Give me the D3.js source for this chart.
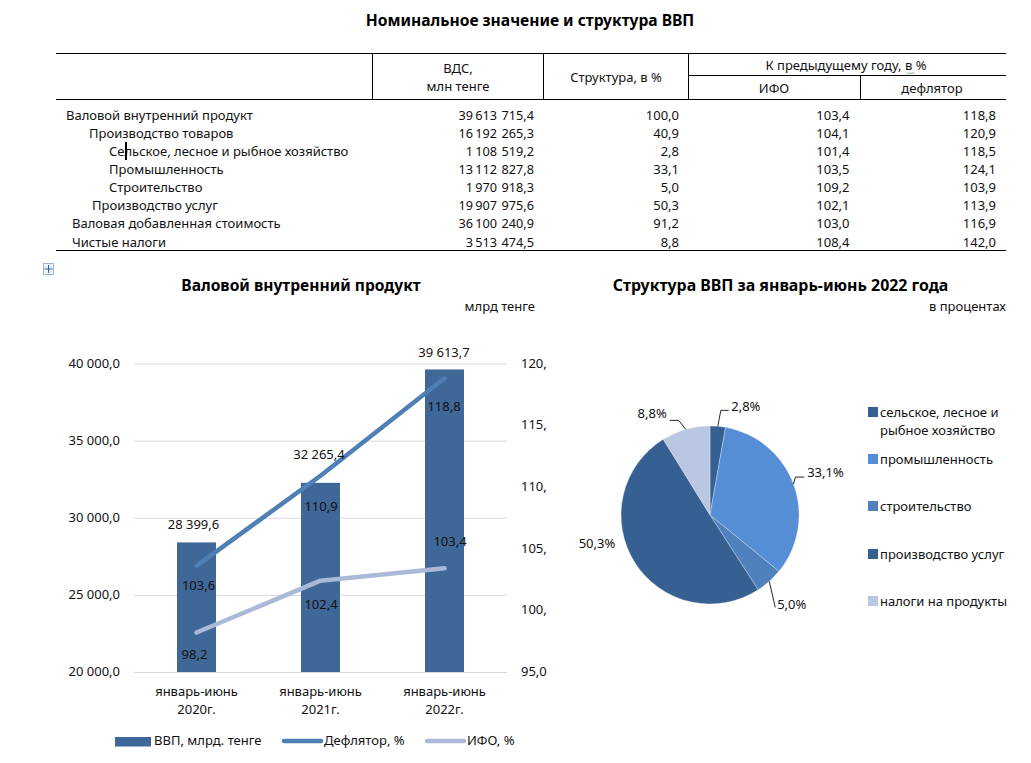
<!DOCTYPE html>
<html><head><meta charset="utf-8">
<script src="https://cdnjs.cloudflare.com/ajax/libs/d3/7.8.5/d3.min.js"></script>
<style>
html,body{margin:0;padding:0;background:#fff}
svg{display:block}
text{font-family:"Noto Sans",sans-serif;font-size:13px;fill:#111}
.b{font-weight:700;font-size:15.6px;fill:#000}
</style></head><body>
<svg id="c" width="1031" height="763"></svg>
<script>
// ---------- table data ----------
const rowNames = ["Валовой внутренний продукт","Производство товаров","Сельское, лесное и рыбное хозяйство","Промышленность","Строительство","Производство услуг","Валовая добавленная стоимость","Чистые налоги"];
const gvaValues = ["39 613  715,4","16 192  265,3","1 108  519,2","13 112  827,8","1 970  918,3","19 907  975,6","36 100  240,9","3 513  474,5"];
const shareValues = ["100,0","40,9","2,8","33,1","5,0","50,3","91,2","8,8"];
const volumeValues = ["103,4","104,1","101,4","103,5","109,2","102,1","103,0","108,4"];
const deflatorValues = ["118,8","120,9","118,5","124,1","103,9","113,9","116,9","142,0"];
// ---------- combo chart data ----------
const periods = ["январь-июнь 2020г.","январь-июнь 2021г.","январь-июнь 2022г."];
const gdp = [28399.6,32265.4,39613.7];
const deflator = [103.6,110.9,118.8];
const ifo = [98.2,102.4,103.4];
const leftTicks = [20000,25000,30000,35000,40000];
const rightTickLabels = ["95,0","100,","105,","110,","115,","120,"];
const rightTicks = [95,100,105,110,115,120];
// ---------- pie data ----------
const pieNames = ["сельское, лесное и|рыбное хозяйство","промышленность","строительство","производство услуг","налоги на продукты"];
const pieValues = [2.8,33.1,5.0,50.3,8.8];
const pieColors = ["#376092","#558ED5","#4F81BD","#376092","#B9C7E2"];

const svg = d3.select("#c");
const fmt = v => d3.format(",.1f")(v).replace(/,/g," ").replace(".",",");
const T = (x,y,s,a="start",cls=null,par=svg) => par.append("text").attr("x",x).attr("y",y).attr("text-anchor",a).attr("class",cls).text(s);
const L = (x1,y1,x2,y2,c="#000",w=1) => svg.append("line").attr("x1",x1).attr("y1",y1).attr("x2",x2).attr("y2",y2).attr("stroke",c).attr("stroke-width",w);

// titles
T(530,25.5,"Номинальное значение и структура ВВП","middle","b");
T(301,290.5,"Валовой внутренний продукт","middle","b");
T(780.5,290.5,"Структура ВВП за январь-июнь 2022 года","middle","b").style("font-size","15.9px");
T(535,311,"млрд тенге","end");
T(1006,311,"в процентах","end");

// table frame
[53.5,99.5,250.5].forEach(y=>L(56,y,1006,y));
L(688,75.5,1006,75.5);
[372.5,543.5,688.5].forEach(x=>L(x,53,x,99));
L(860.5,75,860.5,99);
T(458,73,"ВДС,","middle");
T(458,91,"млн тенге","middle");
T(616,82,"Структура, в %","middle");
T(846,70,"К предыдущему году, в %","middle");
T(774,93,"ИФО","middle");
T(932,93,"дефлятор","middle");
svg.append("path").attr("d","M907 72.5l1.5 1.5 1.5-1.5 1.5 1.5 1.5-1.5 1.5 1.5").attr("fill","none").attr("stroke","#4a9a4a").attr("stroke-width",.8);

const rowY = [119.5,137.5,156,174,192,210,228,247];
const rowX = [66,89,109,109,109,92,72,72];
rowNames.forEach((n,i)=>{
  T(rowX[i],rowY[i],n);
  T(534,rowY[i],gvaValues[i],"end").style("white-space","pre").style("word-spacing","-1px").style("font-size","12.7px");
  T(679,rowY[i],shareValues[i],"end");
  T(849.5,rowY[i],volumeValues[i],"end");
  T(996,rowY[i],deflatorValues[i],"end");
});
// text cursor and table handle seen in the source screenshot
svg.append("rect").attr("x",125).attr("y",142).attr("width",2).attr("height",18).attr("fill","#000");
svg.append("rect").attr("x",43.5).attr("y",263.5).attr("width",10).attr("height",11).attr("fill","#eef3fb").attr("stroke","#9db4d4");
svg.append("path").attr("d","M48.5 265v8M44.5 269h8").attr("stroke","#2f5f9e").attr("stroke-width",1);

// combo chart
const x = d3.scaleBand().domain(periods).range([134.5,506.5]);
const yL = d3.scaleLinear().domain([20000,40000]).range([672,363.5]);
const yR = d3.scaleLinear().domain([95,120]).range([672,363.5]);
const barW = 39, cx = p => x(p)+x.bandwidth()/2;

const gridAxis = d3.axisLeft(yL).tickValues(leftTicks).tickSize(-373).tickPadding(0).tickFormat("");
const gg = svg.append("g").attr("transform","translate(134,0)").call(gridAxis);
gg.select(".domain").remove();
gg.selectAll("line").attr("stroke","#D9D9D9");
leftTicks.forEach(t=>T(120,yL(t)+4,fmt(t),"end"));
rightTicks.forEach((t,i)=>T(521,yR(t)+4,rightTickLabels[i]));

svg.selectAll(".bar").data(gdp).join("rect").attr("class","bar")
  .attr("x",(d,i)=>cx(periods[i])-barW/2).attr("width",barW)
  .attr("y",d=>yL(d)).attr("height",d=>672-yL(d)).attr("fill","#3F6797");

const line = d3.line().x((d,i)=>cx(periods[i])).y(d=>yR(d));
[[deflator,"#4F7FB5"],[ifo,"#AAB9D7"]].forEach(([s,c])=>{
  svg.append("path").attr("d",line(s)).attr("fill","none").attr("stroke",c).attr("stroke-width",4.5).attr("stroke-linecap","round").attr("stroke-linejoin","round");
});

const barLabelDx=[-3,-1.5,-0.5], barLabelGap=[13.5,23.5,12];
gdp.forEach((v,i)=>T(cx(periods[i])+barLabelDx[i],yL(v)-barLabelGap[i],fmt(v),"middle"));
const defDx=[2,0.5,-0.5], defDy=[24,35,33];
deflator.forEach((v,i)=>T(cx(periods[i])+defDx[i],yR(v)+defDy[i],fmt(v),"middle"));
const ifoDx=[-2,0.5,5.5], ifoDy=[26.5,28.5,-22];
ifo.forEach((v,i)=>T(cx(periods[i])+ifoDx[i],yR(v)+ifoDy[i],fmt(v),"middle"));

periods.forEach(p=>{
  const [a,b]=p.split(" ");
  T(cx(p),696,a,"middle"); T(cx(p),714,b,"middle");
});

// combo legend
svg.append("rect").attr("x",115).attr("y",737).attr("width",36).attr("height",9.5).attr("fill","#3F6797");
T(154,745,"ВВП, млрд. тенге");
[[284,"#4F7FB5","Дефлятор, %"],[427,"#AAB9D7","ИФО, %"]].forEach(([lx,c,s])=>{
  svg.append("line").attr("x1",lx).attr("x2",lx+37).attr("y1",741).attr("y2",741).attr("stroke",c).attr("stroke-width",4.5).attr("stroke-linecap","round");
  T(lx+40,745,s);
});

// pie
const pcx=710,pcy=515,R=89;
const arcs = d3.pie().sort(null)(pieValues);
const arc = d3.arc().innerRadius(0).outerRadius(R);
const pg = svg.append("g").attr("transform",`translate(${pcx},${pcy})`);
pg.selectAll("path").data(arcs).join("path").attr("d",arc).attr("fill",(d,i)=>pieColors[i]).attr("stroke","#dfe7f2").attr("stroke-width",.4);

const elbow=[[3,-16,8],[2,-7,9],[6,26,0],null,[-7,-9,-9]];
const labelPos=[[28,-15],[32,-7],[22.5,27.5],[-172,28],[-33.5,-11]];
arcs.forEach((a,i)=>{
  const m=(a.startAngle+a.endAngle)/2, px=pcx+R*Math.sin(m), py=pcy-R*Math.cos(m);
  const e=elbow[i];
  if(e){
    svg.append("path").attr("d",`M${px} ${py}l${e[0]} ${e[1]}h${e[2]}`).attr("fill","none").attr("stroke","#111").attr("stroke-width",.9);
  }
  const lx = i===3 ? 597 : px+labelPos[i][0], ly = i===3 ? 547.5 : py+labelPos[i][1];
  T(lx,ly,d3.format(".1f")(a.value).replace(".",",")+"%","middle");
});

// pie legend
const legendY=[412,459,506,554,601];
pieNames.forEach((n,i)=>{
  svg.append("rect").attr("x",868).attr("y",legendY[i]-5).attr("width",10).attr("height",10).attr("fill",pieColors[i]);
  n.split("|").forEach((s,k)=>T(880,legendY[i]+4.5+k*18,s));
});
</script>
</body></html>
